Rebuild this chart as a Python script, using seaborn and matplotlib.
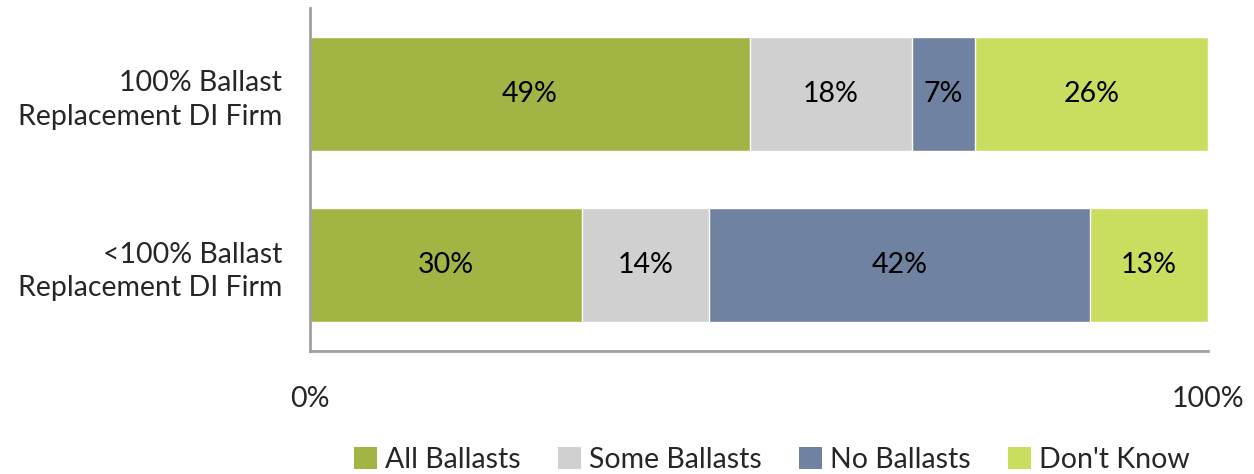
import matplotlib
matplotlib.use("Agg")
import matplotlib.pyplot as plt
from matplotlib.patches import Patch
import numpy as np
import pandas as pd
import seaborn as sns

categories = ["100% Ballast\nReplacement DI Firm", "<100% Ballast\nReplacement DI Firm"]
series = ["All Ballasts", "Some Ballasts", "No Ballasts", "Don't Know"]
all_ballasts = [49, 30]
some_ballasts = [18, 14]
no_ballasts = [7, 42]
dont_know = [26, 13]
colors = ["#A2B444", "#D0D0D0", "#7082A2", "#C9DE5E"]
tick_labels = ["0%", "100%"]

sns.set_theme(style="white")
plt.rcParams["font.family"] = ["Lato", "DejaVu Sans"]

FS = 20.5

values = np.array([all_ballasts, some_ballasts, no_ballasts, dont_know], dtype=float)
shares = values / values.sum(axis=0)  # 100% stacked
cum = np.cumsum(shares, axis=0)

fig = plt.figure(figsize=(12.54, 4.74), dpi=100)
ax = fig.add_axes([310 / 1254, 1 - 351 / 474, 898 / 1254, 343 / 474])

# Draw widest cumulative layer first so narrower layers sit on top
for i in reversed(range(len(series))):
    df = pd.DataFrame({"cat": categories, "end": cum[i]})
    sns.barplot(data=df, x="end", y="cat", color=colors[i], saturation=1,
                width=0.665, ax=ax, orient="h")

for i in range(len(series)):
    starts = cum[i] - shares[i]
    for j, cat in enumerate(categories):
        ax.text(starts[j] + shares[i][j] / 2, j, f"{values[i][j]:.0f}%",
                ha="center", va="center", fontsize=FS, color="black")

ax.set_xlim(0, 1)
ax.set_ylim(1.5, -0.5)
ax.set_xticks([0, 1])
ax.set_xticklabels(tick_labels, fontsize=FS)
ax.tick_params(axis="x", length=9, width=2, color="#A0A0A0", direction="out", pad=16)
ax.tick_params(axis="y", length=0, labelsize=FS, pad=20)
ax.set_xlabel("")
ax.set_ylabel("")
for side in ["top", "right"]:
    ax.spines[side].set_visible(False)
for side in ["left", "bottom"]:
    ax.spines[side].set_color("#A0A0A0")
    ax.spines[side].set_linewidth(2)
for lbl in ax.get_yticklabels():
    lbl.set_horizontalalignment("right")
    lbl.set_multialignment("right")
    lbl.set_linespacing(1.35)

handles = [Patch(facecolor=c, edgecolor="none") for c in colors]
fig.legend(handles, series, loc="center", bbox_to_anchor=(772 / 1254, 1 - 460 / 474),
           ncol=4, frameon=False, fontsize=FS, handlelength=0.8, handleheight=0.8,
           handletextpad=0.3, columnspacing=1.3)

fig.savefig("out.png", dpi=100)
